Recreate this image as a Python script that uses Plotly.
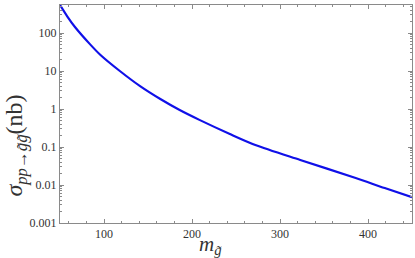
import plotly.graph_objects as go

# gluino mass (GeV) and cross section (nb)
m_gluino = [50, 58, 67, 84, 96, 118, 141, 164, 186, 209, 243, 272, 323, 386, 419, 450]
sigma_nb = [546, 280, 144, 51, 26.4, 10, 4.0, 1.83, 0.94, 0.51, 0.22, 0.113, 0.0455, 0.0153, 0.0083, 0.0048]

x_ticks = [100, 200, 300, 400]
y_ticks = [0.001, 0.01, 0.1, 1, 10, 100]
y_tick_text = ["0.001", "0.01", "0.1", "1", "10", "100"]

fig = go.Figure()
fig.add_trace(go.Scatter(
    x=m_gluino, y=sigma_nb, mode="lines",
    line=dict(color="#1010e8", width=2.2, shape="spline", smoothing=0.8),
    showlegend=False, hoverinfo="skip"))

frame = "#8a8a8a"
serif = "Liberation Serif, Times New Roman, serif"

fig.update_layout(
    width=415, height=258,
    margin=dict(l=60, r=3, t=5, b=35, autoexpand=False),
    paper_bgcolor="white", plot_bgcolor="white",
    font=dict(family=serif, size=12, color="#222"),
)
fig.update_xaxes(
    range=[50, 450], tickvals=x_ticks, ticks="inside", ticklen=4,
    tickcolor=frame, showline=True, linecolor=frame, linewidth=1,
    mirror="allticks", showgrid=False, zeroline=False, automargin=False,
    minor=dict(ticks="inside", ticklen=2, dtick=20, tickcolor=frame),
    tickfont=dict(family=serif, size=12, color="#333"),
)
fig.update_yaxes(
    type="log", range=[-3, 2.737], tickvals=y_ticks, ticktext=y_tick_text,
    ticks="inside", ticklen=4, tickcolor=frame, showline=True,
    linecolor=frame, linewidth=1, mirror="allticks", showgrid=False,
    zeroline=False, automargin=False,
    minor=dict(ticks="inside", ticklen=2, tickcolor=frame, dtick="D1"),
    tickfont=dict(family=serif, size=12, color="#333"),
)

fig.add_annotation(
    xref="paper", yref="paper", x=0.428, y=-0.10, xanchor="center", yanchor="middle",
    text="<i>m</i><sub><i>g̃</i></sub>", showarrow=False,
    font=dict(family=serif, size=21, color="#333"))
fig.add_annotation(
    xref="paper", yref="paper", x=-0.125, y=0.355, xanchor="center", yanchor="middle",
    text="<i>σ</i><sub><i>pp</i>→<i>g̃g̃</i></sub>(nb)", textangle=-90, showarrow=False,
    font=dict(family=serif, size=24, color="#333"))

fig.write_html("out.html", config={"displayModeBar": False},
               post_script="document.body.style.margin='0';document.body.style.overflow='hidden';")
